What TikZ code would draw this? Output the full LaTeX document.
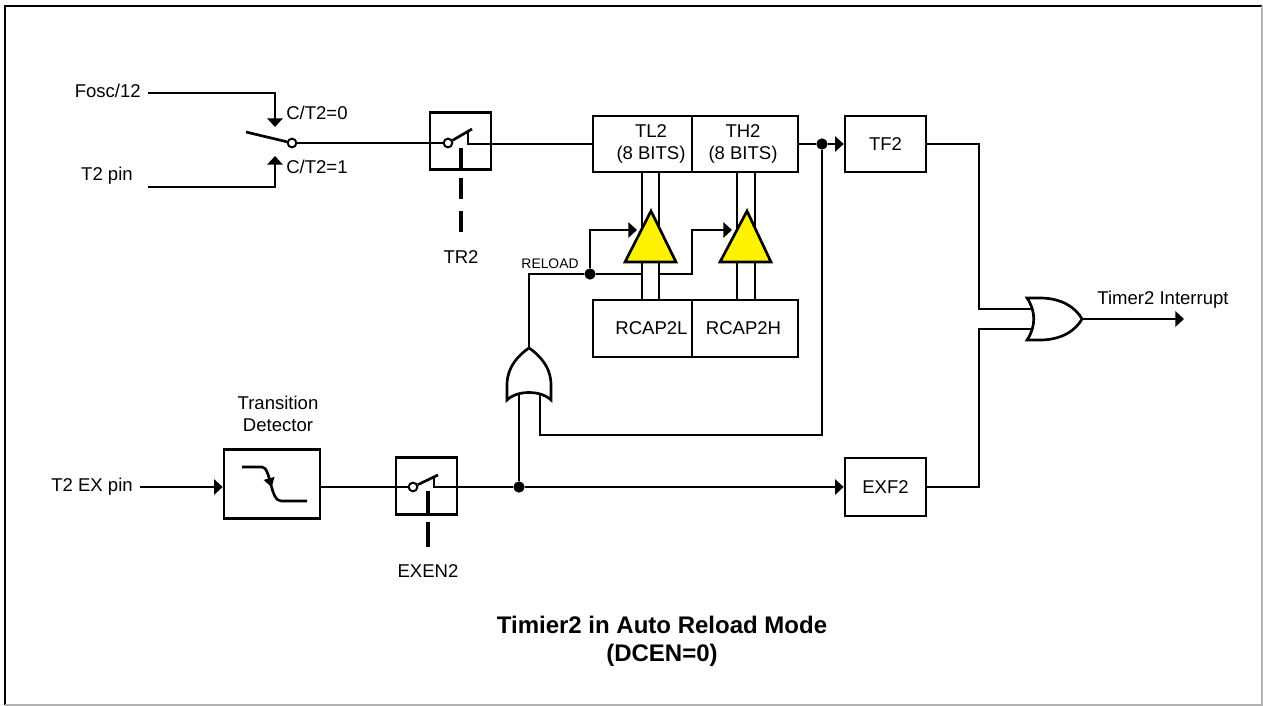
\documentclass[tikz,border=0pt]{standalone}
\usepackage{fontspec}
\setmainfont{Liberation Sans}
\usetikzlibrary{arrows.meta,decorations.markings}
\tikzstyle{box} = [draw, line width=2pt, inner sep=0pt, align=center]
\tikzstyle{wire} = [line width=2pt]
\tikzstyle{dot} = [circle, fill=black, inner sep=0pt, minimum size=8.5pt]
\tikzstyle{pivot} = [circle, draw, fill=white, line width=1.5pt,
  inner sep=0pt, minimum size=6.5pt]
\tikzstyle{actuator} = [line width=3.2pt]
\tikzstyle{buffer} = [draw, fill=yellow, line width=2pt]

\begin{document}
\begin{tikzpicture}[x=0.75pt, y=-0.75pt, >={Triangle[length=6.5pt,width=11.5pt]},
  font=\fontsize{13.9pt}{17pt}\selectfont]
  \useasboundingbox (0,0) rectangle (1263,706);
  \draw[line width=1.6pt] (1262,6) -- (5,6) -- (5,705);
  \draw[gray!60, line width=1pt] (1262,6) -- (1262,705) -- (5,705);
  % clock select
  \node[anchor=east, inner sep=0pt] (fosc) at (141,91) {Fosc/12};
  \node[anchor=east, inner sep=0pt] (t2pin) at (133,176) {T2 pin};
  \coordinate (foscin) at (148,93);
  \coordinate (t2in) at (148,187);
  \coordinate (ct0) at (275,127);
  \coordinate (ct1) at (275,156);
  \draw[wire, ->] (foscin) -| (ct0);
  \draw[wire, ->] (t2in) -| (ct1);
  \node[anchor=west, inner sep=0pt] (ct0lbl) at (286,113) {C/T2=0};
  \node[anchor=west, inner sep=0pt] (ct1lbl) at (286,167) {C/T2=1};
  \node[pivot] (msw) at (292,143) {};
  \coordinate (mlever) at (246,132);
  \draw[wire] (mlever) -- (msw);
  % TR2 gate
  \node[box, minimum width=45.75pt, minimum height=42.75pt] (tr2) at (460.5,141) {};
  \node[pivot] (tr2p) at (448,143) {};
  \coordinate (tr2lev) at (472,129);
  \coordinate (tr2c) at (468,130);
  \draw[wire] (msw) -- (tr2p);
  \draw[wire] (tr2p) -- (tr2lev);
  \draw[actuator] (461,148) -- (461,169.5);
  \draw[actuator, dash pattern=on 15.75pt off 9pt] (461,178) -- (461,232);
  \node (tr2lbl) at (461,257) {TR2};
  % counter and reload registers
  \node[box, minimum width=74.25pt, minimum height=42pt] (tl2) at (642.5,144) {};
  \node[box, minimum width=79.5pt, minimum height=42pt] (th2) at (745,144) {};
  \node[box, minimum width=74.25pt, minimum height=42.75pt] (rcapl) at (642.5,328.5) {};
  \node[box, minimum width=79.5pt, minimum height=42.75pt] (rcaph) at (745,328.5) {};
  \node[align=center] at (651,144) {TL2\\(8 BITS)};
  \node[align=center] at (743,144) {TH2\\(8 BITS)};
  \node at (651.5,328.5) {RCAP2L};
  \node at (743.5,328.5) {RCAP2H};
  \draw[wire] (tr2c) |- (tl2.west);
  % reload gate
  \coordinate (gor) at (529,348);
  \coordinate (gin1) at (519,394);
  \coordinate (gin2) at (540,394);
  \draw[wire] (507,400) -- (507,385) .. controls (507,366) and (520,354) .. (gor)
    .. controls (538,354) and (551,366) .. (551,385) -- (551,400)
    .. controls (541,390) and (517,390) .. (507,400) -- cycle;
  \node[dot] (rdot) at (590,274) {};
  \node[font=\fontsize{10.4pt}{12pt}\selectfont] (rlbl) at (550,264) {RELOAD};
  \coordinate (ctl1) at (637,230);
  \coordinate (ctl2) at (732,230);
  \draw[wire] (gor) |- (rdot);
  \draw[wire, ->] (rdot) |- (ctl1);
  \draw[wire] (rdot) -- (642,274);
  \draw[wire, ->] (659,274) -| (692,230) -- (ctl2);
  % buses
  \draw[wire] (642,172) -- (642,300) (659,172) -- (659,300);
  \draw[wire] (737,172) -- (737,300) (755,172) -- (755,300);
  \draw[buffer] (651,211) -- (676,262) -- (625,262) -- cycle;
  \draw[buffer] (747,211) -- (771,262) -- (720,262) -- cycle;
  % overflow flag
  \node[dot] (tdot) at (822,144) {};
  \node[box, minimum width=60.75pt, minimum height=42pt] (tf2) at (885.5,144) {TF2};
  \draw[wire] (th2.east) -- (tdot);
  \draw[wire, ->] (tdot) -- (tf2.west);
  \coordinate (fb) at (540,435);
  \draw[wire] (tdot) |- (fb) -- (gin2);
  % external input
  \node[anchor=east, inner sep=0pt] (t2ex) at (133,487) {T2 EX pin};
  \coordinate (t2exin) at (140,487);
  \node[box, minimum width=72pt, minimum height=51.75pt] (tdet) at (272,484) {};
  \node[align=center] (tdetlbl) at (278,414) {Transition\\Detector};
  \draw[wire, ->] (t2exin) -- (t2exin -| tdet.west);
  \draw[wire, postaction={decorate}, decoration={markings,
    mark=at position 0.5 with {\arrow{Triangle[length=7pt,width=8pt]}}}]
    (242,467) -- (262,467) .. controls (271,467) and (270,501) .. (281,501) -- (307,501);
  % EXEN2 gate
  \node[box, minimum width=45.75pt, minimum height=42.75pt] (exen) at (426.5,486) {};
  \node[pivot] (exp) at (413,487) {};
  \coordinate (exlev) at (438,475);
  \coordinate (exc) at (434,476);
  \node[dot] (xdot) at (519,487) {};
  \draw[wire] (tdet.east |- xdot) -- (exp);
  \draw[wire] (exp) -- (exlev);
  \draw[wire] (exc) |- (xdot);
  \draw[actuator] (428,491) -- (428,514.5);
  \draw[actuator] (428,522) -- (428,547);
  \node (exenlbl) at (428,571) {EXEN2};
  \node[box, minimum width=60.75pt, minimum height=43.5pt] (exf2) at (885.5,487) {EXF2};
  \draw[wire, ->] (xdot) -- (exf2.west);
  \draw[wire] (xdot) -- (gin1);
  % interrupt gate
  \coordinate (oin1) at (1031,309);
  \coordinate (oin2) at (1031,329);
  \coordinate (oout) at (1082,319);
  \coordinate (irq) at (1184,319);
  \draw[wire] (1027,298) -- (1040,298) .. controls (1062,298) and (1076,308) .. (oout)
    .. controls (1076,330) and (1062,340) .. (1040,340) -- (1027,340)
    .. controls (1036,327) and (1036,311) .. (1027,298) -- cycle;
  \draw[wire] (tf2.east) -| (979,309) -- (oin1);
  \draw[wire] (exf2.east) -| (979,329) -- (oin2);
  \draw[wire, ->] (oout) -- (irq);
  \node (irqlbl) at (1163,300) {Timer2 Interrupt};
  % caption
  \node[align=center, font=\fontsize{18pt}{21pt}\selectfont\bfseries] (title)
    at (662,641) {Timier2 in Auto Reload Mode\\(DCEN=0)};
\end{tikzpicture}
\end{document}
